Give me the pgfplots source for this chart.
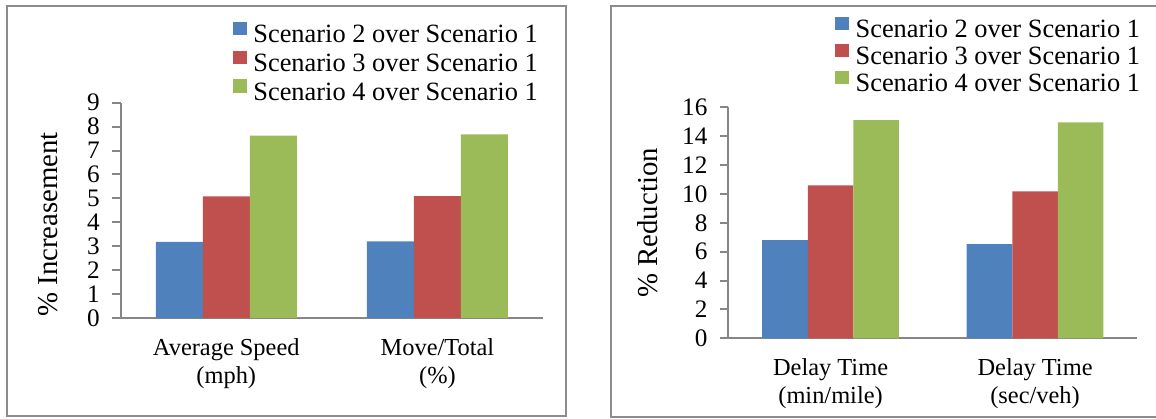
\documentclass[border=0pt]{standalone}
\usepackage{fontspec}
\setmainfont{Liberation Serif}
\usepackage{pgfplots}
\pgfplotsset{compat=1.18}
\definecolor{sblue}{RGB}{79,129,189}
\definecolor{sred}{RGB}{192,80,77}
\definecolor{sgreen}{RGB}{155,187,89}
\definecolor{axgray}{RGB}{134,134,134}
\definecolor{framegray}{RGB}{140,140,140}

\pgfplotsset{
 panel/.style={
  scale only axis,
  ybar=0pt,
  ymin=0,
  xmin=-0.5,xmax=1.5,
  xtick=data,
  axis lines*=left,
  axis line style={axgray,line width=1pt},
  tick align=outside,
  major tick length=4.3pt,
  ytick style={axgray,line width=1pt},
  xtick style={draw=none},
  /pgf/number format/assume math mode=true,
  yticklabel style={font=\fontsize{12.6}{14}\selectfont, xshift=-2.6pt},
  xticklabel style={font=\fontsize{12.2}{14.2}\selectfont, align=center, yshift=-2.3pt},
  ylabel style={font=\fontsize{14.4}{16}\selectfont, anchor=center},
  legend style={draw=none, fill=none, anchor=north west, font=\fontsize{13.2}{14}\selectfont,
    legend cell align=left, column sep=3.3pt,
    nodes={inner sep=0pt, outer sep=0pt}, inner sep=0pt, outer sep=0pt},
  legend image code/.code={\fill[##1, draw=none] (0pt,0pt) rectangle (7pt,6.7pt);},
 }
}

\begin{document}
\begin{tikzpicture}
\useasboundingbox (0,0) rectangle (578pt,209pt);
\draw[framegray, line width=1pt] (3.5pt,1pt) rectangle (283pt,206pt);
\draw[framegray, line width=1pt] (305.35pt,0.5pt) rectangle (580pt,206pt);

\begin{axis}[panel,
  at={(60.35pt,50pt)}, anchor=south west,
  width=211.15pt, height=107.65pt,
  ymax=9, ytick={0,1,...,9},
  bar width=23.5pt,
  xticklabels={{Average Speed\\(mph)},{Move/Total\\(\%)}},
  ylabel={\% Increasement},
  ylabel style={at={(axis description cs:-0.1723,0.435)}},
  legend style={at={(axis description cs:0.2654,1.376)}, row sep=2.6pt},
]
\addplot[fill=sblue, draw=none] coordinates {(0,3.18) (1,3.2)};
\addplot[fill=sred, draw=none] coordinates {(0,5.08) (1,5.1)};
\addplot[fill=sgreen, draw=none] coordinates {(0,7.62) (1,7.68)};
\legend{Scenario 2 over Scenario 1, Scenario 3 over Scenario 1, Scenario 4 over Scenario 1}
\end{axis}

\begin{axis}[panel,
  at={(364.15pt,39.85pt)}, anchor=south west,
  width=204.5pt, height=115.5pt,
  ymax=16, ytick={0,2,...,16},
  bar width=22.8pt,
  xticklabels={{Delay Time\\(min/mile)},{Delay Time\\(sec/veh)}},
  ylabel={\% Reduction},
  ylabel style={at={(axis description cs:-0.1963,0.5)}},
  legend style={at={(axis description cs:0.2609,1.393)}, row sep=1.8pt},
]
\addplot[fill=sblue, draw=none] coordinates {(0,6.8) (1,6.53)};
\addplot[fill=sred, draw=none] coordinates {(0,10.6) (1,10.18)};
\addplot[fill=sgreen, draw=none] coordinates {(0,15.12) (1,14.96)};
\legend{Scenario 2 over Scenario 1, Scenario 3 over Scenario 1, Scenario 4 over Scenario 1}
\end{axis}
\end{tikzpicture}
\end{document}
